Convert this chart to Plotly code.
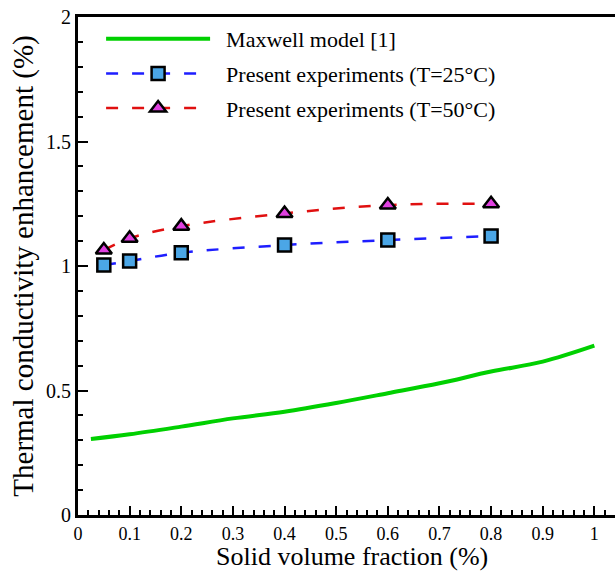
import plotly.graph_objects as go

# Data
maxwell_x = [0.025, 0.1, 0.2, 0.3, 0.4, 0.5, 0.6, 0.7, 0.8, 0.9, 1.0]
maxwell_y = [0.305, 0.324, 0.355, 0.388, 0.415, 0.45, 0.489, 0.529, 0.576, 0.616, 0.68]

exp_x = [0.05, 0.1, 0.2, 0.4, 0.6, 0.8]
exp_25 = [1.004, 1.02, 1.053, 1.084, 1.104, 1.12]
exp_50 = [1.064, 1.111, 1.16, 1.211, 1.245, 1.25]

x_ticks = [0, 0.1, 0.2, 0.3, 0.4, 0.5, 0.6, 0.7, 0.8, 0.9, 1]
y_ticks = [0, 0.5, 1, 1.5, 2]

FONT = "Liberation Serif, Times New Roman, serif"
PAD = "\u00a0\u00a0"

fig = go.Figure()
fig.add_trace(go.Scatter(
    x=maxwell_x, y=maxwell_y, mode="lines", name=PAD + "Maxwell model [1]",
    legendgroup="g1",
    line=dict(color="#00D000", width=4, shape="spline")))
fig.add_trace(go.Scatter(
    x=exp_x, y=exp_25, mode="lines+markers", name=PAD + "Present experiments (T=25°C)",
    legendgroup="g2",
    line=dict(color="#1E1EFF", width=2.5, dash="12px,14px", shape="spline", smoothing=1),
    marker=dict(symbol="square", size=13, color="#4BA6E6", line=dict(color="black", width=2.5))))
fig.add_trace(go.Scatter(
    x=exp_x, y=exp_50, mode="lines+markers", name=PAD + "Present experiments (T=50°C)",
    legendgroup="g3",
    line=dict(color="#E01010", width=2.5, dash="12px,14px", shape="spline", smoothing=1),
    marker=dict(symbol="triangle-up", size=14, color="#E040E0", line=dict(color="black", width=2.5))))

fig.update_layout(
    width=615, height=571,
    margin=dict(l=78, r=0, t=17, b=56),
    paper_bgcolor="white", plot_bgcolor="white",
    font=dict(family=FONT, color="black"),
    showlegend=True,
    legend=dict(x=0.043, y=0.998, xanchor="left", yanchor="top",
                font=dict(family=FONT, size=22, color="black"),
                bgcolor="rgba(0,0,0,0)", itemwidth=104, traceorder="grouped",
                tracegroupgap=3, itemsizing="trace"),
    annotations=[dict(text="Solid volume fraction (%)", xref="paper", yref="paper",
                      x=0.51, y=0, xanchor="center", yanchor="top", yshift=-25,
                      showarrow=False, font=dict(family=FONT, size=26, color="black"))],
)
fig.update_xaxes(
    range=[0, 1.04], showgrid=False, zeroline=False, automargin=False,
    showline=True, linecolor="black", linewidth=3, mirror=True,
    ticks="inside", ticklen=9, tickwidth=2, tickcolor="black",
    tickvals=x_ticks, ticktext=[str(v) for v in x_ticks],
    tickfont=dict(family=FONT, size=18, color="black"),
    minor=dict(ticks="inside", ticklen=5, tickwidth=1.5, tickcolor="black", dtick=0.02),
)
fig.update_yaxes(
    range=[0, 2], showgrid=False, zeroline=False, automargin=False,
    showline=True, linecolor="black", linewidth=3, mirror=False,
    ticks="inside", ticklen=10, tickwidth=2, tickcolor="black",
    tickvals=y_ticks, ticktext=["0", "0.5", "1", "1.5", "2"],
    tickfont=dict(family=FONT, size=20, color="black"),
    minor=dict(ticks="inside", ticklen=5, tickwidth=1.5, tickcolor="black", dtick=0.1),
    title=dict(text="Thermal conductivity enhancement (%)", font=dict(family=FONT, size=29, color="black"), standoff=4),
)

fig.write_html("out.html", config={"displayModeBar": False},
               post_script="document.body.style.margin='0';")
